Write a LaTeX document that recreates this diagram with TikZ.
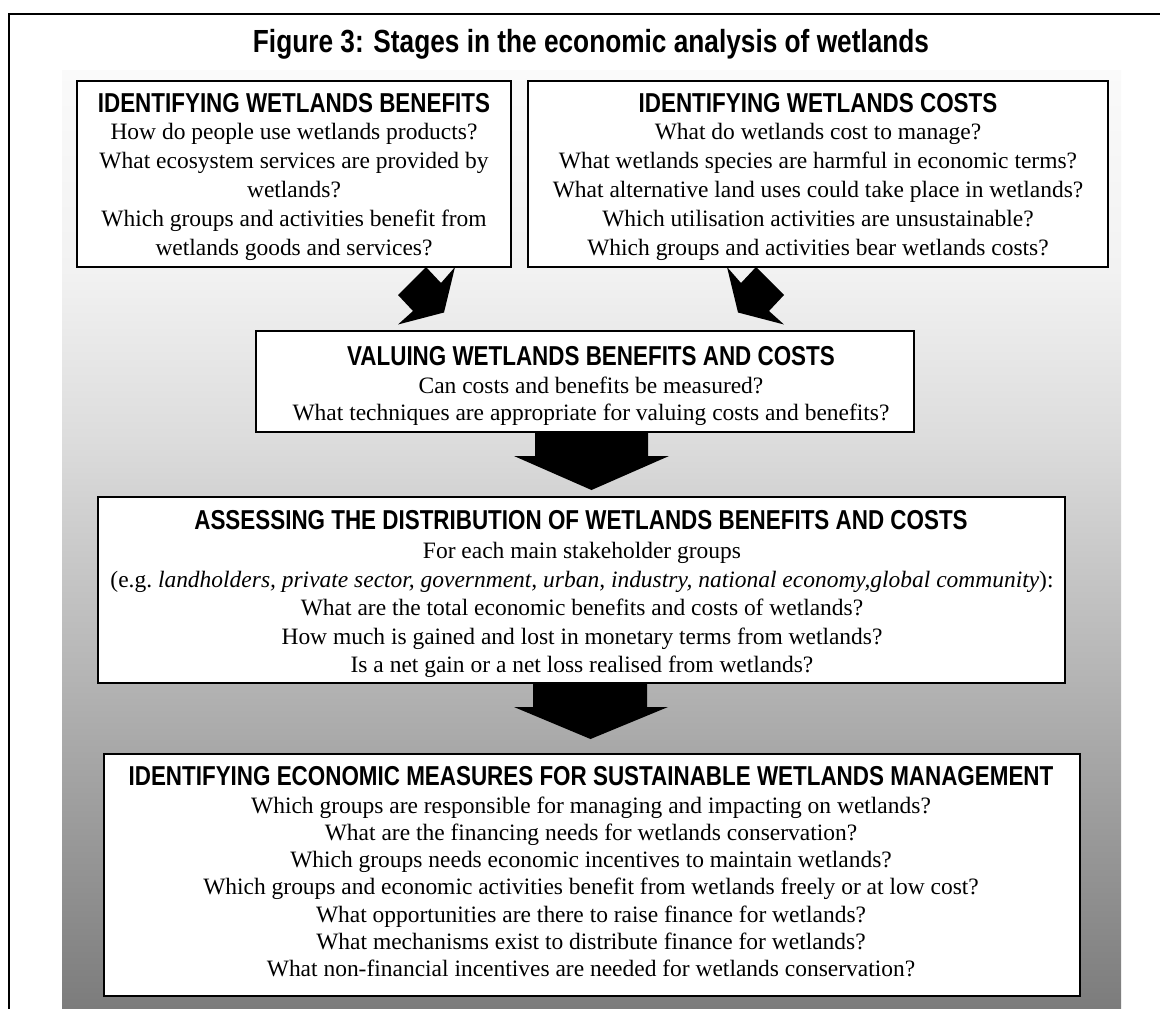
\documentclass[tikz,border=0pt]{standalone}
\usepackage{fontspec}
\setmainfont{Liberation Serif}
\newfontfamily\hdfont[FakeStretch=0.82]{Liberation Sans}
\usetikzlibrary{shadows,calc}
\definecolor{gA}{gray}{0.486}
\definecolor{gB}{gray}{0.698}
\definecolor{gC}{gray}{0.863}
\definecolor{gD}{gray}{0.949}
\definecolor{gE}{gray}{0.98}
\pgfdeclareverticalshading{bgshade}{100bp}{color(0bp)=(gA); color(25bp)=(gA); color(41.95bp)=(gB); color(55.28bp)=(gC); color(64.34bp)=(gD); color(75bp)=(gE); color(100bp)=(gE)}
\tikzset{
  box/.style={draw=black, line width=0.9pt, fill=white, inner sep=0pt,
    drop shadow={shadow xshift=1.1pt, shadow yshift=-1.1pt, fill=black!60, opacity=1}},
  ttl/.style={font=\hdfont\bfseries\fontsize{24}{28}\selectfont, inner sep=0pt, anchor=base},
  hd/.style={font=\hdfont\bfseries\fontsize{20.5}{24}\selectfont, inner sep=0pt, anchor=base},
  bd/.style={font=\fontsize{17.6}{21}\selectfont, inner sep=0pt, anchor=base},
  blk/.style={fill=black},
}
\begin{document}
\begin{tikzpicture}[x=0.75pt,y=-0.75pt]
\useasboundingbox (0,0) rectangle (1160,1008);
\clip (0,0) rectangle (1160,1008);
\fill[white] (0,0) rectangle (1160,1008);
\shade[shading=bgshade] (62,70) rectangle (1121,1008);
\draw[line width=1.5pt] (9,1030) -- (9,14) -- (1190,14);

% title
\node[ttl] (title) at (591,52) {Figure 3: Stages in the economic analysis of wetlands};

% boxes
\node[box, minimum width=325.5pt, minimum height=139.5pt] (b1) at (294,174) {};
\node[box, minimum width=435pt, minimum height=139.5pt] (b2) at (818,174) {};
\node[box, minimum width=493.5pt, minimum height=75.75pt] (b3) at (585,381.5) {};
\node[box, minimum width=725.25pt, minimum height=139.5pt] (b4) at (581.5,590) {};
\node[box, minimum width=732pt, minimum height=181.5pt] (b5) at (592,875) {};

% diagonal block arrows
\fill[blk] (426,267) -- (441,283) -- (455,267) -- (444,312.5) -- (398,324.5) -- (413,311) -- (398,295) -- cycle;
\fill[blk] (756,267) -- (741,283) -- (727,267) -- (738,312.5) -- (784,324.5) -- (769,311) -- (784,295) -- cycle;

% down block arrows
\coordinate (t1) at (591.5,490);
\fill[blk] (535,432) -- (648,432) -- (648,456) -- (669,456) -- (t1) -- (514,456) -- (535,456) -- cycle;
\coordinate (t2) at (590.5,739);
\fill[blk] (533,683) -- (647,683) -- (647,707) -- (668,707) -- (t2) -- (514,707) -- (533,707) -- cycle;

% box 1
\node[hd] (h1) at (294,112) {IDENTIFYING WETLANDS BENEFITS};
\foreach \t [count=\i] in {{How do people use wetlands products?},{What ecosystem services are provided by},{wetlands?},{Which groups and activities benefit from},{wetlands goods and services?}}
  \node[bd] (b1l\i) at (294,{110+29*\i}) {\t};

% box 2
\node[hd] (h2) at (818,112) {IDENTIFYING WETLANDS COSTS};
\foreach \t [count=\i] in {{What do wetlands cost to manage?},{What wetlands species are harmful in economic terms?},{What alternative land uses could take place in wetlands?},{Which utilisation activities are unsustainable?},{Which groups and activities bear wetlands costs?}}
  \node[bd] (b2l\i) at (818,{110+29*\i}) {\t};

% box 3
\node[hd] (h3) at (591,365) {VALUING WETLANDS BENEFITS AND COSTS};
\node[bd] (b3l1) at (591,393) {Can costs and benefits be measured?};
\node[bd] (b3l2) at (591,420) {What techniques are appropriate for valuing costs and benefits?};

% box 4
\node[hd] (h4) at (581,529) {ASSESSING THE DISTRIBUTION OF WETLANDS BENEFITS AND COSTS};
\foreach \t [count=\i] in {{For each main stakeholder groups},{(e.g.\ \textit{landholders, private sector, government, urban, industry, national economy,global community}):},{What are the total economic benefits and costs of wetlands?},{How much is gained and lost in monetary terms from wetlands?},{Is a net gain or a net loss realised from wetlands?}}
  \node[bd] (b4l\i) at (582,{530+28.5*\i}) {\t};

% box 5
\node[hd] (h5) at (591,785) {IDENTIFYING ECONOMIC MEASURES FOR SUSTAINABLE WETLANDS MANAGEMENT};
\foreach \t [count=\i] in {{Which groups are responsible for managing and impacting on wetlands?},{What are the financing needs for wetlands conservation?},{Which groups needs economic incentives to maintain wetlands?},{Which groups and economic activities benefit from wetlands freely or at low cost?},{What opportunities are there to raise finance for wetlands?},{What mechanisms exist to distribute finance for wetlands?},{What non-financial incentives are needed for wetlands conservation?}}
  \node[bd] (b5l\i) at (591,{786+27.2*\i}) {\t};
\end{tikzpicture}
\end{document}
